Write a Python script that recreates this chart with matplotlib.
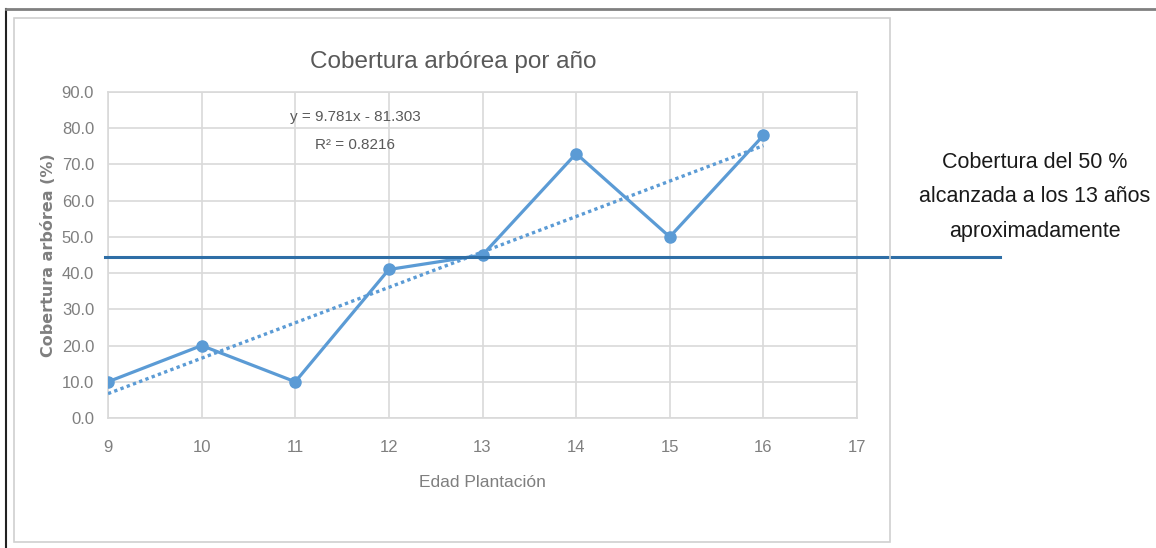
import numpy as np
import matplotlib.pyplot as plt
from matplotlib.patches import Rectangle
from matplotlib.lines import Line2D

# data
edad = [9, 10, 11, 12, 13, 14, 15, 16]
cobertura = [10.0, 20.0, 10.0, 41.0, 45.0, 73.0, 50.0, 78.0]
x_ticks = [9, 10, 11, 12, 13, 14, 15, 16, 17]
y_ticks = [0, 10, 20, 30, 40, 50, 60, 70, 80, 90]
trend_slope = 9.781
trend_intercept = -81.303
nivel = 44.5  # horizontal reference line

plt.rcParams['font.family'] = ['Liberation Sans', 'DejaVu Sans']

W, H = 1156, 548
fig = plt.figure(figsize=(W / 100, H / 100), dpi=100)
ax = fig.add_axes([108 / W, 1 - 418 / H, (857 - 108) / W, (418 - 92) / H])

grey = '#d9d9d9'
blue = '#5b9bd5'
tick_col = '#7f7f7f'

# outer frame lines of the image
fig.add_artist(Line2D([6 / W, 6 / W], [0, 1 - 9 / H], color='#222222', lw=1.5))
fig.add_artist(Line2D([6 / W, 1], [1 - 9 / H, 1 - 9 / H], color='#808080', lw=2))
# chart area border
fig.add_artist(Rectangle((14 / W, 1 - 542 / H), (890 - 14) / W, (542 - 18) / H,
                         fill=False, edgecolor='#d0d0d0', lw=1.2))

# trendline
xt = np.array([edad[0], edad[-1]])
ax.plot(xt, trend_slope * xt + trend_intercept, ls=(0, (1, 1)), color=blue, lw=2.4, zorder=3)

# series
ax.plot(edad, cobertura, color=blue, lw=2.3, marker='o', ms=8, zorder=4)

# horizontal line, running beyond the plot area
ax.plot([8.97, 18.53], [nivel, nivel], color='#2e6ea6', lw=2.2, clip_on=False, zorder=5)

ax.set_xlim(9, 17)
ax.set_ylim(0, 90)
ax.set_xticks(x_ticks)
ax.set_yticks(y_ticks)
ax.set_yticklabels([f'{v:.1f}' for v in y_ticks])
ax.grid(True, color=grey, lw=1.2)
ax.set_axisbelow(True)
for s in ax.spines.values():
    s.set_color(grey)
    s.set_linewidth(1.2)
ax.tick_params(length=0, colors=tick_col, labelsize=12)
ax.tick_params(axis='x', pad=16)
ax.tick_params(axis='y', pad=10)

fig.text(453 / W, 1 - 62 / H, 'Cobertura arbórea por año', ha='center', va='center',
         fontsize=17.5, color='#595959')
ax.set_xlabel('Edad Plantación', fontsize=12.5, color=tick_col, labelpad=14)
ax.set_ylabel('Cobertura arbórea (%)', fontsize=11.5, color=tick_col, labelpad=4,
              family=['DejaVu Sans'], fontweight='bold')

ax.text(11.64, 83.2, 'y = 9.781x - 81.303', ha='center', va='center', fontsize=11, color='#595959')
ax.text(11.64, 75.4, 'R² = 0.8216', ha='center', va='center', fontsize=11, color='#595959')

fig.text(1035 / W, 1 - 197 / H, 'Cobertura del 50 %\nalcanzada a los 13 años\naproximadamente',
         ha='center', va='center', fontsize=15.5, color='#1a1a1a', linespacing=1.85)

fig.savefig('out.png', dpi=100)
